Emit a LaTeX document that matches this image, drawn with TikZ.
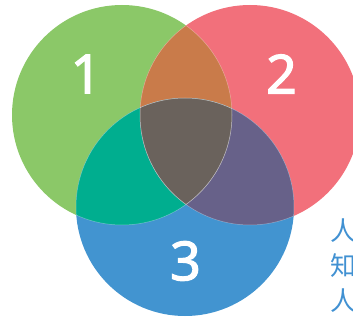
\documentclass[tikz,border=0pt]{standalone}
\usepackage{fontspec}
\setmainfont{Noto Sans}
\newfontfamily\numfont{Noto Sans}[FakeBold=2]
\newfontfamily\cjkfont{Noto Sans CJK SC}
\definecolor{cgreen}{HTML}{8BC868}
\definecolor{cred}{HTML}{F2707B}
\definecolor{cblue}{HTML}{4294D0}
\definecolor{corange}{HTML}{C97B4A}
\definecolor{cteal}{HTML}{00AE8F}
\definecolor{cpurple}{HTML}{676189}
\definecolor{cgrey}{HTML}{6A625C}
\definecolor{txtblue}{HTML}{4191D2}
\begin{document}
\begin{tikzpicture}[x=1pt,y=-1pt,
  num/.style={text=white,font=\numfont\fontsize{54}{54}\selectfont,inner sep=0pt},
  side/.style={text=txtblue,font=\cjkfont\fontsize{26}{26}\selectfont,inner sep=0pt,anchor=west},
  edge/.style={white,opacity=0.35,line width=0.5pt}]
\clip (0,0) rectangle (353,320);
\def\CA{(122,115) circle[radius=110pt]}
\def\CB{(250,115) circle[radius=110pt]}
\def\CC{(185,207) circle[radius=109pt]}
\fill[cgreen] \CA;
\fill[cred] \CB;
\fill[cblue] \CC;
\begin{scope}\clip \CA; \fill[corange] \CB; \fill[cteal] \CC; \end{scope}
\begin{scope}\clip \CB; \fill[cpurple] \CC; \end{scope}
\begin{scope}\clip \CA; \clip \CB; \fill[cgrey] \CC; \end{scope}
% faint outlines inside overlaps
\begin{scope}\clip \CB; \draw[edge] \CA; \end{scope}
\begin{scope}\clip \CC; \draw[edge] \CA; \end{scope}
\begin{scope}\clip \CA; \draw[edge] \CB; \end{scope}
\begin{scope}\clip \CC; \draw[edge] \CB; \end{scope}
\begin{scope}\clip \CA; \draw[edge] \CC; \end{scope}
\begin{scope}\clip \CB; \draw[edge] \CC; \end{scope}
\node[num] (n1) at (86,74) {1};
\node[num] (n2) at (281.5,74) {2};
\node[num] (n3) at (185.5,261) {3};
\node[side] (t1) at (330,231) {人};
\node[side] (t2) at (330,266) {知};
\node[side] (t3) at (330,301) {人};
\end{tikzpicture}
\end{document}
